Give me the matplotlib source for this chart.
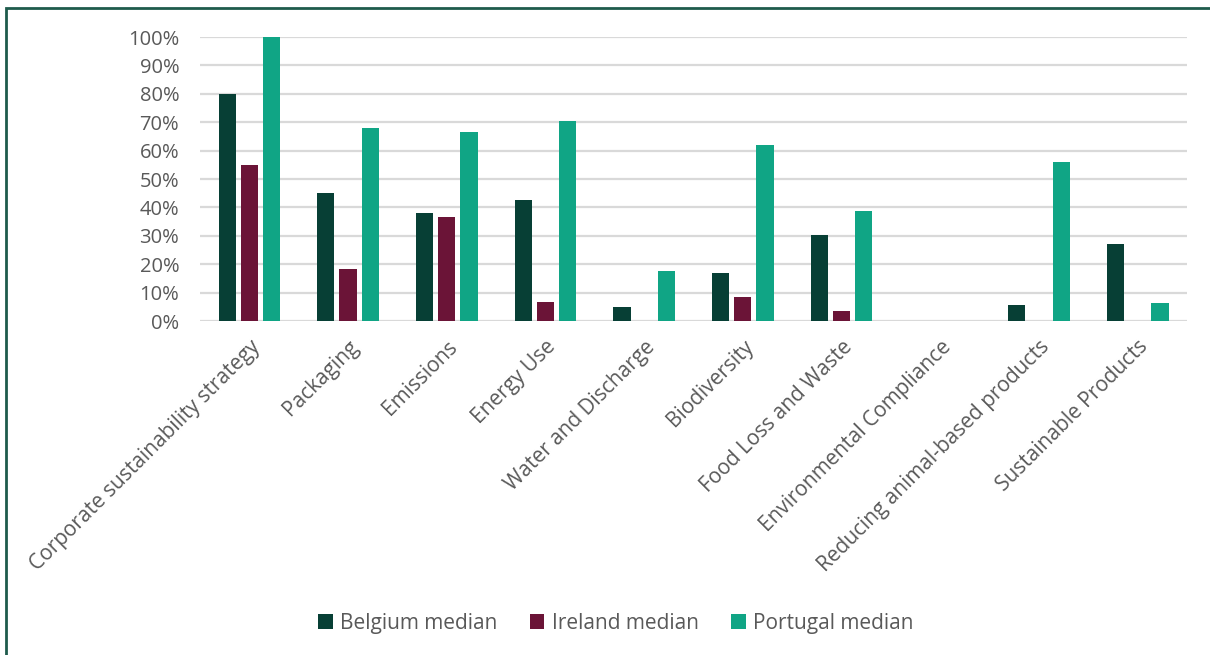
import matplotlib
matplotlib.use("Agg")
import matplotlib.pyplot as plt
import numpy as np
from matplotlib.patches import Rectangle
from matplotlib.ticker import PercentFormatter

categories = [
    "Corporate sustainability strategy", "Packaging", "Emissions", "Energy Use",
    "Water and Discharge", "Biodiversity", "Food Loss and Waste",
    "Environmental Compliance", "Reducing animal-based products", "Sustainable Products",
]
belgium = [80, 45, 38, 42.7, 5, 17, 30.3, 0, 5.6, 27.1]
ireland = [55, 18.3, 36.6, 6.7, 0, 8.5, 3.5, 0, 0, 0]
portugal = [100, 68, 66.5, 70.4, 17.6, 62, 38.7, 0, 56, 6.3]

series = [("Belgium median", belgium, "#073F35"),
          ("Ireland median", ireland, "#6B1437"),
          ("Portugal median", portugal, "#10A585")]

plt.rcParams["font.family"] = ["Open Sans", "DejaVu Sans"]
text_color = "#595959"

fig = plt.figure(figsize=(12.1, 6.55), dpi=100)
ax = fig.add_axes([0.1653, 0.5099, 0.8157, 0.4336])

x = np.arange(len(categories))
width = 0.175
step = 0.225
for i, (name, vals, color) in enumerate(series):
    ax.bar(x + (i - 1) * step, vals, width, color=color, label=name, zorder=3)

ax.set_xlim(-0.5, len(categories) - 0.5)
ax.set_ylim(0, 100)
ax.set_yticks(np.arange(0, 101, 10))
ax.yaxis.set_major_formatter(PercentFormatter(decimals=0))
ax.grid(axis="y", color="#D9D9D9", linewidth=1.6, zorder=0)
ax.set_axisbelow(True)
for s in ax.spines.values():
    s.set_visible(False)
ax.tick_params(axis="y", length=0, labelsize=14.5, labelcolor=text_color, pad=15)
ax.set_xticks(x)
ax.set_xticklabels(categories, rotation=45, ha="right", rotation_mode="anchor")
ax.tick_params(axis="x", length=0, labelsize=15, labelcolor=text_color, pad=11)

fig.legend(loc="center", bbox_to_anchor=(0.509, 0.048), ncol=3, frameon=False,
           fontsize=15, labelcolor=text_color, handlelength=0.7, handleheight=0.7,
           handletextpad=0.35, columnspacing=1.55)

# frame around the figure
fig.patches.append(Rectangle((6 / 1210, -0.1), 1.2, 1.1 - 8 / 655,
                             transform=fig.transFigure, fill=False,
                             edgecolor="#1E5B4C", linewidth=2))

fig.savefig("out.png", dpi=100, facecolor="white")
